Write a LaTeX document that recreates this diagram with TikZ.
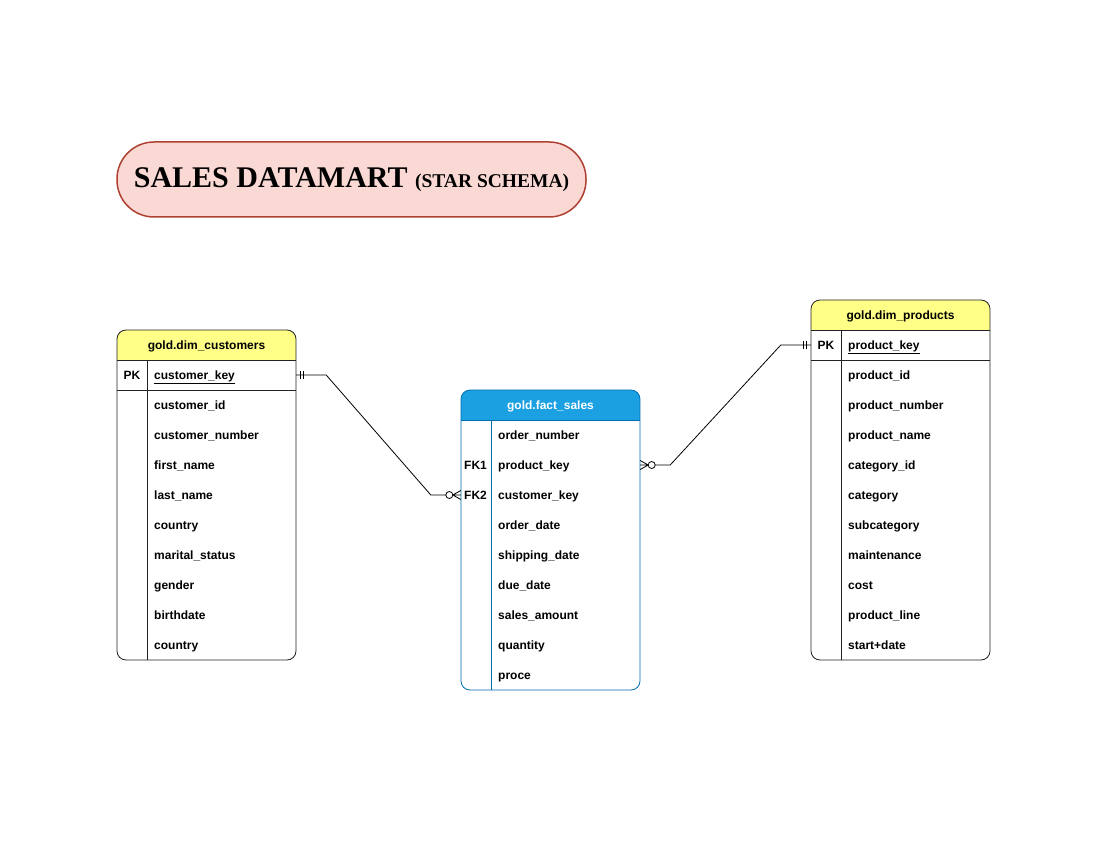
\documentclass[tikz,border=0pt]{standalone}
\usepackage{fontspec}
\setmainfont{Liberation Sans}
\newfontfamily\titlefont{Liberation Serif}
\usetikzlibrary{calc}
\definecolor{hdryellow}{HTML}{FFFF88}
\definecolor{hdrblue}{HTML}{1BA1E2}
\definecolor{strblue}{HTML}{006EAF}
\definecolor{titlefill}{HTML}{FAD9D5}
\definecolor{titledraw}{HTML}{AE4132}
\definecolor{dimline}{HTML}{222222}
\tikzset{
  txt/.style={inner sep=0pt, font=\fontsize{12}{14}\selectfont\bfseries, text height=8.6pt, text depth=2.6pt, yshift=-1.2pt},
  field/.style={txt, anchor=west},
  keylbl/.style={txt, anchor=center},
  hdr/.style={txt, anchor=center},
  rowbox/.style={inner sep=0pt, minimum width=179pt, minimum height=30pt},
  conn/.style={draw=black, line width=0.8pt},
  mandone/.pic={\draw[line width=0.8pt] (4pt,-4pt)--(4pt,4pt) (7pt,-4pt)--(7pt,4pt);},
  zeromany/.pic={\draw[line width=0.8pt] (0pt,-4.5pt)--(8pt,0pt)--(0pt,4.5pt) (0pt,0pt)--(8pt,0pt);
                 \draw[line width=0.8pt, fill=white] (11.5pt,0pt) circle (3.5pt);},
}
\begin{document}
\begin{tikzpicture}[x=1pt,y=-1pt]
\useasboundingbox (0,0) rectangle (1100,850);
\fill[white] (0,0) rectangle (1100,850);

% ---------- Title ----------
\node[draw=titledraw, fill=titlefill, line width=1.5pt, rounded corners=37pt,
      minimum width=469pt, minimum height=75pt, inner sep=0pt] (title) at (351.5,179.5)
  {\titlefont\bfseries\fontsize{30}{33}\selectfont SALES DATAMART {\fontsize{19.5}{23}\selectfont(STAR SCHEMA)}};

% ---------- gold.dim_customers ----------
\begin{scope}
  \clip[rounded corners=9pt] (117,330) rectangle (296,660);
  \fill[hdryellow] (117,330) rectangle (296,360);
\end{scope}
\draw[dimline, line width=0.8pt, rounded corners=9pt] (117,330) rectangle (296,660);
\draw[dimline, line width=0.8pt] (117,360) -- (296,360) (117,390) -- (296,390) (147,360) -- (147,660);
\node[hdr] (c-hdr) at (206.5,345) {gold.dim\_customers};
\node[rowbox] (c-pk) at (206.5,375) {};
\node[keylbl] (c-pkl) at (132,375) {PK};
\node[field] (c-key) at (154,375) {\underline{customer\_key}};
\foreach \t [count=\i] in {customer\_id, customer\_number, first\_name, last\_name, country, marital\_status, gender, birthdate, country}
  \node[field] (c-f\i) at (154,375+30*\i) {\t};

% ---------- gold.fact_sales ----------
\begin{scope}
  \clip[rounded corners=9pt] (461,390) rectangle (640,690);
  \fill[hdrblue] (461,390) rectangle (640,420);
\end{scope}
\draw[strblue, line width=0.8pt, rounded corners=9pt] (461,390) rectangle (640,690);
\draw[strblue, line width=0.8pt] (461,420) -- (640,420) (491,420) -- (491,690);
\node[hdr, text=white] (f-hdr) at (550.5,405) {gold.fact\_sales};
\node[rowbox] (f-fk1) at (550.5,465) {};
\node[rowbox] (f-fk2) at (550.5,495) {};
\node[keylbl] (f-fk1l) at (475.5,465) {FK1};
\node[keylbl] (f-fk2l) at (475.5,495) {FK2};
\foreach \t [count=\i] in {order\_number, product\_key, customer\_key, order\_date, shipping\_date, due\_date, sales\_amount, quantity, proce}
  \node[field] (f-f\i) at (498,405+30*\i) {\t};

% ---------- gold.dim_products ----------
\begin{scope}
  \clip[rounded corners=9pt] (811,300) rectangle (990,660);
  \fill[hdryellow] (811,300) rectangle (990,330);
\end{scope}
\draw[dimline, line width=0.8pt, rounded corners=9pt] (811,300) rectangle (990,660);
\draw[dimline, line width=0.8pt] (811,330) -- (990,330) (811,360) -- (990,360) (841,330) -- (841,660);
\node[hdr] (p-hdr) at (900.5,315) {gold.dim\_products};
\node[rowbox] (p-pk) at (900.5,345) {};
\node[keylbl] (p-pkl) at (826,345) {PK};
\node[field] (p-key) at (848,345) {\underline{product\_key}};
\foreach \t [count=\i] in {product\_id, product\_number, product\_name, category\_id, category, subcategory, maintenance, cost, product\_line, start+date}
  \node[field] (p-f\i) at (848,345+30*\i) {\t};

% ---------- Connectors ----------
\draw[conn] (c-pk.east) -- ++(30,0) -- ($(f-fk2.west)+(-30,0)$) -- ($(f-fk2.west)+(-15,0)$);
\pic at (c-pk.east) {mandone};
\pic[rotate=180] at (f-fk2.west) {zeromany};

\draw[conn] (p-pk.west) -- ++(-30,0) -- ($(f-fk1.east)+(30,0)$) -- ($(f-fk1.east)+(15,0)$);
\pic[rotate=180] at (p-pk.west) {mandone};
\pic at (f-fk1.east) {zeromany};
\end{tikzpicture}
\end{document}
